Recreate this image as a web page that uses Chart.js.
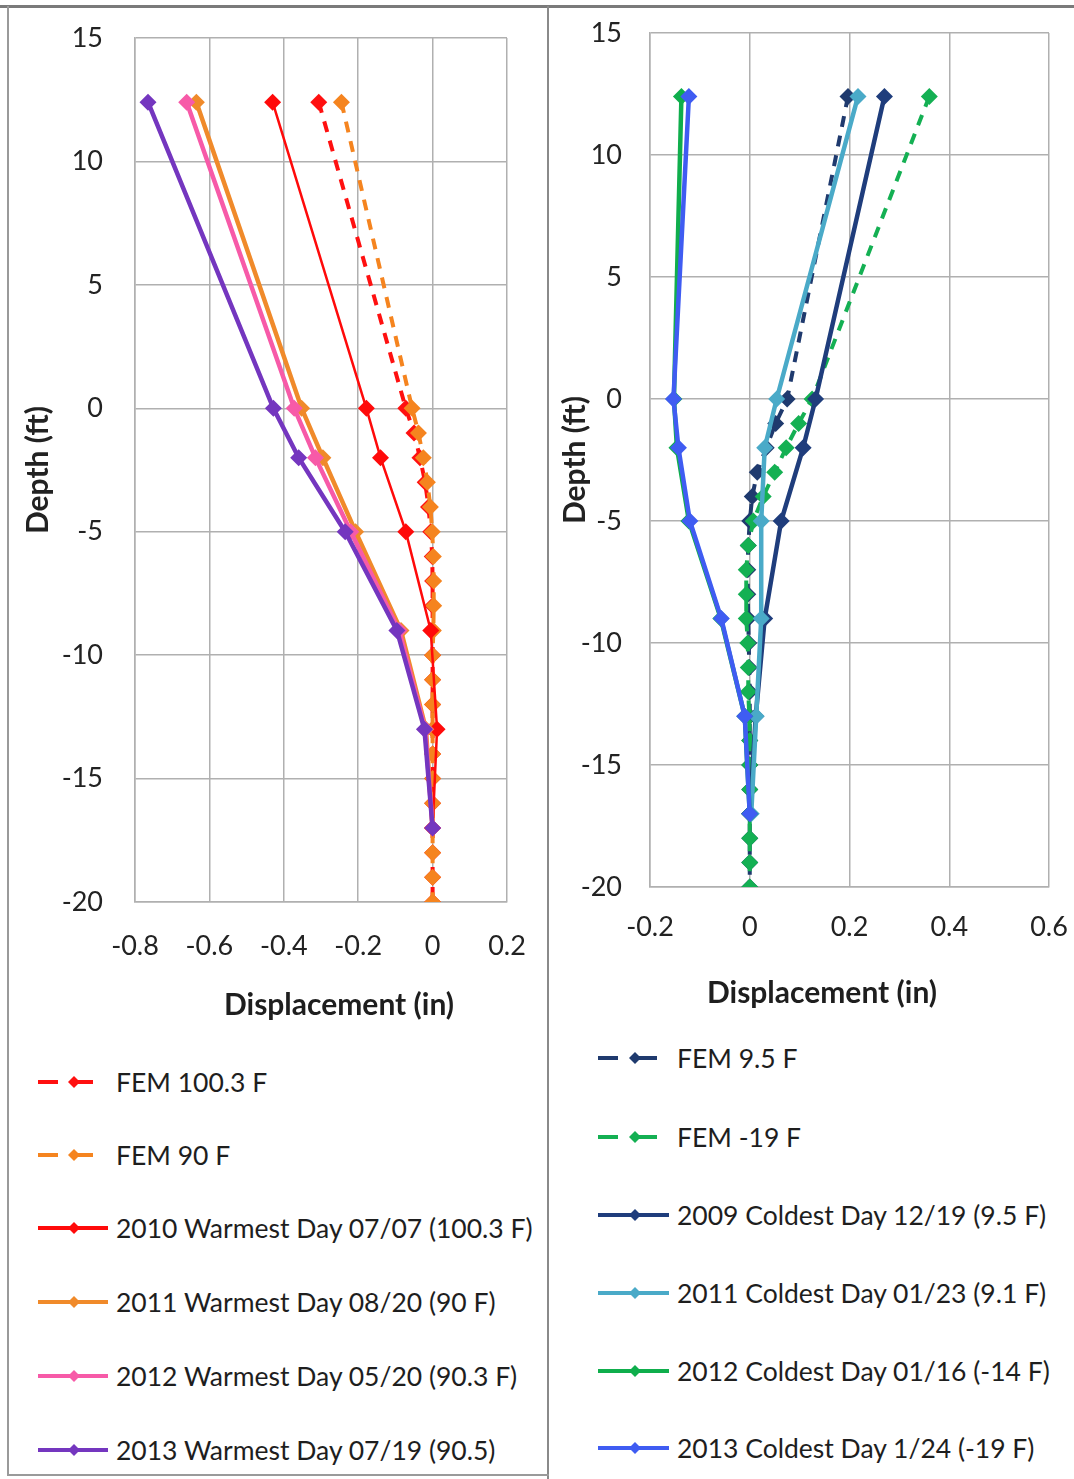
<!DOCTYPE html>
<html>
<head>
<meta charset="utf-8">
<script src="https://cdn.jsdelivr.net/npm/chart.js@4.4.1/dist/chart.umd.min.js"></script>
<style>
  body { margin: 0; background: #fff; width: 1074px; height: 1479px; position: relative; overflow: hidden;
         font-family: Lato, "Open Sans", sans-serif; color: #1e1e1e; }
  .frame { position: absolute; box-sizing: border-box; }
  canvas { position: absolute; top: 0; }
  .xtitle { position: absolute; font-weight: bold; font-size: 30px; white-space: nowrap; transform: translate(-50%, -50%); }
  .leg { position: absolute; font-size: 26.5px; white-space: nowrap; transform: translateY(-50%); }
  svg.sample { position: absolute; overflow: visible; }
</style>
</head>
<body>
<div class="frame" style="left:0;top:5px;width:1074px;height:3px;background:#7a7a7a"></div>
<div class="frame" style="left:7px;top:6px;width:2px;height:1470px;background:#9a9a9a"></div>
<div class="frame" style="left:547px;top:6px;width:2px;height:1473px;background:#8a8a8a"></div>
<div class="frame" style="left:7px;top:1474px;width:542px;height:2px;background:#9a9a9a"></div>

<canvas id="leftChart" style="left:0"></canvas>
<canvas id="rightChart" style="left:548px"></canvas>

<div class="xtitle" style="left:339px;top:1003px">Displacement (in)</div>
<div class="xtitle" style="left:822px;top:991px">Displacement (in)</div>

<div id="legends"></div>

<script>
'use strict';

/* ── Warm side (left) ── */
const leftFemDepth  = [12.4, 0, -1, -2, -3, -4, -5, -6, -7, -8, -9, -10, -11, -12, -13, -14, -15, -16, -17, -18, -19, -20];
const leftMeasDepth = [12.4, 0, -2, -5, -9, -13, -17];

const fem1003 = [-0.306, -0.072, -0.050, -0.034, -0.020, -0.011, -0.005, -0.001, 0, 0, 0, 0, 0, 0, 0, 0, 0, 0, 0, 0, 0, 0];
const fem90   = [-0.245, -0.055, -0.038, -0.025, -0.014, -0.006, -0.001, 0.002, 0.003, 0.003, 0.002, 0, 0, 0, 0, 0, 0, 0, 0, 0, 0, 0];
const warm2010 = [-0.430, -0.178, -0.140, -0.072, -0.005, 0.012, 0];
const warm2011 = [-0.635, -0.352, -0.295, -0.207, -0.085, -0.018, 0];
const warm2012 = [-0.661, -0.372, -0.315, -0.220, -0.090, -0.020, 0];
const warm2013 = [-0.765, -0.428, -0.360, -0.235, -0.096, -0.022, 0];

const leftXTicks = [-0.8, -0.6, -0.4, -0.2, 0, 0.2];

/* ── Cold side (right) ── */
const rightFemDepth  = [12.4, 0, -1, -2, -3, -4, -5, -6, -7, -8, -9, -10, -11, -12, -13, -14, -15, -16, -17, -18, -19, -20];
const rightMeasDepth = [12.4, 0, -2, -5, -9, -13, -17];

const fem95      = [0.197, 0.075, 0.052, 0.033, 0.015, 0.005, 0, -0.003, -0.004, -0.004, -0.003, -0.002, -0.001, 0, 0, 0, 0, 0, 0, 0, 0, 0];
const femMinus19 = [0.360, 0.125, 0.098, 0.073, 0.050, 0.027, 0.007, -0.003, -0.007, -0.007, -0.007, -0.004, -0.003, -0.003, -0.001, 0, 0, 0, 0, 0, 0, 0];
const cold2009 = [0.270, 0.132, 0.107, 0.063, 0.030, 0.012, 0];
const cold2011 = [0.217, 0.054, 0.030, 0.023, 0.023, 0.013, 0.003];
const cold2012 = [-0.137, -0.152, -0.146, -0.122, -0.058, -0.010, 0];
const cold2013 = [-0.122, -0.153, -0.143, -0.120, -0.057, -0.010, 0];

const rightXTicks = [-0.2, 0, 0.2, 0.4, 0.6];
const depthTicks  = [-20, -15, -10, -5, 0, 5, 10, 15];

const leftSeries = [
  { label: 'FEM 100.3 F',                      xs: fem1003,  ys: leftFemDepth,  color: '#ff1010', width: 4,   dash: [11, 9] },
  { label: 'FEM 90 F',                         xs: fem90,    ys: leftFemDepth,  color: '#f5841f', width: 4,   dash: [11, 9] },
  { label: '2010 Warmest Day 07/07 (100.3 F)', xs: warm2010, ys: leftMeasDepth, color: '#ff0a0a', width: 2.5, dash: [] },
  { label: '2011 Warmest Day 08/20 (90 F)',    xs: warm2011, ys: leftMeasDepth, color: '#f08a2a', width: 4.5, dash: [] },
  { label: '2012 Warmest Day 05/20 (90.3 F)',  xs: warm2012, ys: leftMeasDepth, color: '#f75aa8', width: 4.5, dash: [] },
  { label: '2013 Warmest Day 07/19 (90.5)',    xs: warm2013, ys: leftMeasDepth, color: '#7436bf', width: 4.5, dash: [] },
];

const rightSeries = [
  { label: 'FEM 9.5 F',                        xs: fem95,      ys: rightFemDepth,  color: '#1f3a6e', width: 4,   dash: [11, 9] },
  { label: 'FEM -19 F',                        xs: femMinus19, ys: rightFemDepth,  color: '#14b053', width: 4,   dash: [11, 9] },
  { label: '2009 Coldest Day 12/19 (9.5 F)',   xs: cold2009,   ys: rightMeasDepth, color: '#1f3d7c', width: 4.5, dash: [] },
  { label: '2011 Coldest Day 01/23 (9.1 F)',   xs: cold2011,   ys: rightMeasDepth, color: '#4aaac8', width: 4.5, dash: [] },
  { label: '2012 Coldest Day 01/16 (-14 F)',   xs: cold2012,   ys: rightMeasDepth, color: '#0fae4c', width: 4.5, dash: [] },
  { label: '2013 Coldest Day 1/24 (-19 F)',    xs: cold2013,   ys: rightMeasDepth, color: '#3f5cf2', width: 4.5, dash: [] },
];

const GRID = '#b0b0b0';
const FONT = 'Lato, "Open Sans", sans-serif';

function fmtTick(v) {
  const r = Math.round(v * 10) / 10;
  return r === 0 ? '0' : String(r);
}

function buildDatasets(series) {
  return series.map((s, i) => ({
    label: s.label,
    data: s.xs.map((x, k) => ({ x, y: s.ys[k] })),
    showLine: true,
    borderColor: s.color,
    backgroundColor: s.color,
    borderWidth: s.width,
    borderDash: s.dash,
    pointStyle: 'rectRot',
    pointRadius: 8.5,
    pointBorderWidth: 0,
    pointBackgroundColor: s.color,
    tension: 0,
    order: series.length - i,   // first series underneath, like Excel
  }));
}

// tick labels are pushed away from the plot with invisible tick marks,
// because ticks.padding also inflates the plot's outer margins
function makeChart(id, series, opt) {
  const cv = document.getElementById(id);
  cv.width = opt.w; cv.height = opt.h;
  cv.style.width = opt.w + 'px'; cv.style.height = opt.h + 'px';
  const chart = new Chart(cv.getContext('2d'), {
    type: 'scatter',
    data: { datasets: buildDatasets(series) },
    options: {
      responsive: false,
      animation: false,
      events: [],
      layout: { autoPadding: false, padding: { top: opt.area.top, right: opt.w - opt.area.right, bottom: 0, left: 0 } },
      plugins: { legend: { display: false }, tooltip: { enabled: false } },
      scales: {
        x: {
          type: 'linear', position: 'bottom',
          min: opt.xTicks[0], max: opt.xTicks[opt.xTicks.length - 1],
          afterBuildTicks: sc => { sc.ticks = opt.xTicks.map(v => ({ value: v })); },
          afterFit: sc => { sc.height = opt.h - opt.area.bottom; },
          grid: { color: GRID, lineWidth: 1.5, drawTicks: true, tickLength: opt.xGap, tickColor: 'rgba(0,0,0,0)' },
          border: { color: GRID, width: 1.5 },
          ticks: { color: '#222', font: { family: FONT, size: 27 }, padding: 1, maxRotation: 0, callback: fmtTick },
        },
        y: {
          type: 'linear', position: 'left',
          min: -20, max: 15,
          afterBuildTicks: sc => { sc.ticks = depthTicks.map(v => ({ value: v })); },
          afterFit: sc => { sc.width = opt.area.left; },
          grid: { color: GRID, lineWidth: 1.5, drawTicks: true, tickLength: opt.yGap, tickColor: 'rgba(0,0,0,0)' },
          border: { color: GRID, width: 1.5 },
          ticks: { color: '#222', font: { family: FONT, size: 27 }, padding: 1, callback: fmtTick },
          title: { display: true, text: 'Depth (ft)', color: '#222',
                   font: { family: FONT, size: 30, weight: 'bold' }, padding: { top: opt.titlePad, bottom: 0 } },
        },
      },
    },
  });
  return chart;
}

makeChart('leftChart', leftSeries, {
  w: 548, h: 1030, area: { left: 135, top: 38, right: 507, bottom: 902 },
  xGap: 27, yGap: 31, titlePad: 20, xTicks: leftXTicks,
});

makeChart('rightChart', rightSeries, {
  w: 526, h: 1030, area: { left: 102, top: 33, right: 501, bottom: 887 },
  xGap: 23, yGap: 27, titlePad: 9, xTicks: rightXTicks,
});

/* ── Legends (HTML) ── */
function legendItem(s, cy, x0, x1, xd, textX, fem) {
  const wrap = document.getElementById('legends');
  const svgNS = 'http://www.w3.org/2000/svg';
  const svg = document.createElementNS(svgNS, 'svg');
  svg.setAttribute('class', 'sample');
  svg.setAttribute('width', 1); svg.setAttribute('height', 1);
  svg.style.left = '0px'; svg.style.top = cy + 'px';
  const seg = (a, b) => {
    const l = document.createElementNS(svgNS, 'line');
    l.setAttribute('x1', a); l.setAttribute('x2', b); l.setAttribute('y1', 0); l.setAttribute('y2', 0);
    l.setAttribute('stroke', s.color); l.setAttribute('stroke-width', 4);
    svg.appendChild(l);
  };
  if (fem) { seg(x0, x0 + 20); seg(xd + 4, x1); } else { seg(x0, x1); }
  const d = document.createElementNS(svgNS, 'polygon');
  const r = 6;
  d.setAttribute('points', `${xd - r},0 ${xd},${-r} ${xd + r},0 ${xd},${r}`);
  d.setAttribute('fill', s.color);
  svg.appendChild(d);
  wrap.appendChild(svg);

  const t = document.createElement('div');
  t.className = 'leg';
  t.style.left = textX + 'px'; t.style.top = cy + 'px';
  t.textContent = s.label;
  wrap.appendChild(t);
}

const leftLegendY  = [1082, 1155, 1228, 1302, 1376, 1450];
const rightLegendY = [1058, 1137, 1215, 1293, 1371, 1448];

leftSeries.forEach((s, i) => {
  const fem = i < 2;
  legendItem(s, leftLegendY[i], 38, fem ? 93 : 108, 74, 116, fem);
});
rightSeries.forEach((s, i) => {
  const fem = i < 2;
  legendItem(s, rightLegendY[i], 598, fem ? 657 : 669, 635, 677, fem);
});
</script>
</body>
</html>
